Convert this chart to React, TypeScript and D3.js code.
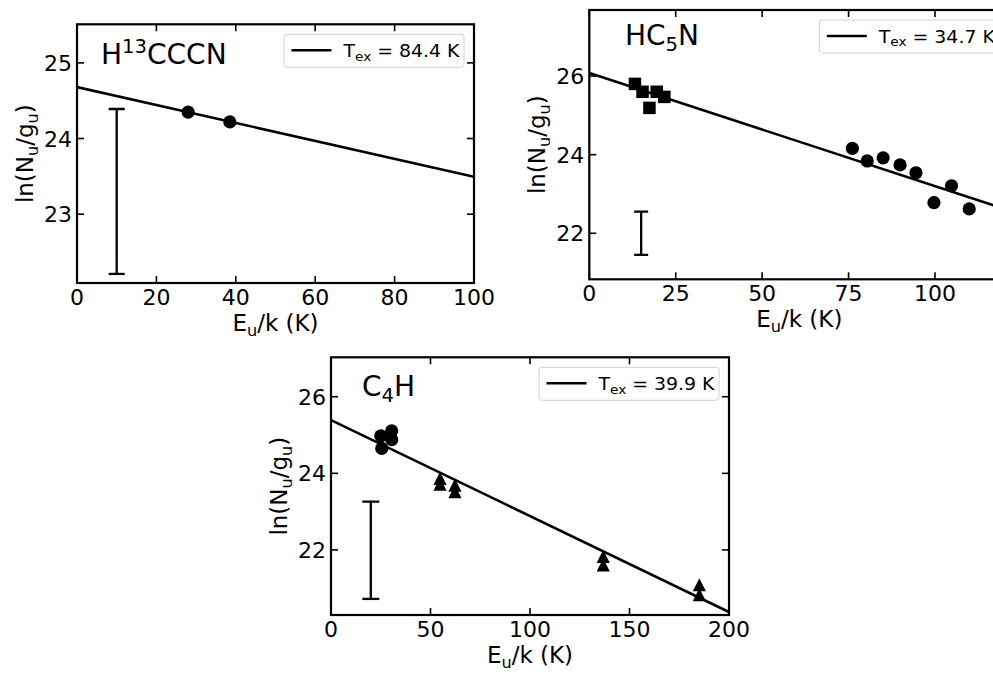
import React from "react";
import * as d3 from "d3";

// ---------- data ----------
const h13cccnEnergy = [28.0, 38.5];
const h13cccnLnN = [24.35, 24.22];

const hc5nSquareEnergy = [13.2, 15.4, 17.4, 19.5, 21.7];
const hc5nSquareLnN = [25.8, 25.6, 25.19, 25.6, 25.47];
const hc5nCircleEnergy = [76.1, 80.4, 85.0, 89.9, 94.5, 99.7, 104.8, 109.9];
const hc5nCircleLnN = [24.16, 23.84, 23.92, 23.74, 23.54, 22.78, 23.21, 22.62];

const c4hCircleEnergy = [25.0, 30.5, 25.5, 30.5];
const c4hCircleLnN = [24.98, 25.11, 24.65, 24.88];
const c4hTriangleEnergy = [54.8, 54.8, 62.3, 62.3, 136.8, 136.8, 185.1, 185.1];
const c4hTriangleLnN = [23.87, 23.72, 23.69, 23.52, 21.83, 21.61, 21.09, 20.83];

const texValues = [84.4, 34.7, 39.9];
const fitIntercepts = [24.68, 26.08, 25.39];

const errorBarX = [10, 15, 20];
const errorBarCenter = [23.3, 22.0, 21.99];
const errorBarHalf = [1.09, 0.55, 1.27];

const xDomains: [number, number][] = [[0, 100], [0, 121.5], [0, 200]];
const yDomains: [number, number][] = [[22.09, 25.51], [20.83, 27.68], [20.3, 27.03]];
const xTickValues = [
  [0, 20, 40, 60, 80, 100],
  [0, 25, 50, 75, 100],
  [0, 50, 100, 150, 200],
];
const yTickValues = [
  [23, 24, 25],
  [22, 24, 26],
  [22, 24, 26],
];

type Kind = "n" | "sub" | "sup";
type Part = [string, Kind];

const titleParts: Part[][] = [
  [["H", "n"], ["13", "sup"], ["CCCN", "n"]],
  [["HC", "n"], ["5", "sub"], ["N", "n"]],
  [["C", "n"], ["4", "sub"], ["H", "n"]],
];

const FONT = "DejaVu Sans";

function Rich({ parts, size, ...rest }: { parts: Part[]; size: number; [k: string]: any }) {
  let cur = 0;
  return (
    <text fontFamily={FONT} fontSize={size} {...rest}>
      {parts.map(([t, k], i) => {
        const target = k === "sub" ? size * 0.22 : k === "sup" ? -size * 0.36 : 0;
        const dy = target - cur;
        cur = target;
        return (
          <tspan key={i} dy={dy} fontSize={k === "n" ? size : size * 0.7}>
            {t}
          </tspan>
        );
      })}
    </text>
  );
}

type Layout = {
  left: number;
  top: number;
  right: number;
  bottom: number;
  titleX: number;
  titleY: number;
  cap: number;
};

const layouts: Layout[] = [
  { left: 77, top: 24.3, right: 474, bottom: 283, titleX: 101, titleY: 63.5, cap: 8 },
  { left: 589.3, top: 10, right: 1009.3, bottom: 279.3, titleX: 625, titleY: 44.5, cap: 7 },
  { left: 331, top: 357.3, right: 729, bottom: 615, titleX: 362, titleY: 396, cap: 8.5 },
];

function Panel({ idx, children }: { idx: number; children: (x: any, y: any) => React.ReactNode }) {
  const L = layouts[idx];
  const x = d3.scaleLinear().domain(xDomains[idx]).range([L.left, L.right]);
  const y = d3.scaleLinear().domain(yDomains[idx]).range([L.bottom, L.top]);
  const clipId = `clip${idx}`;
  const tickLen = 7;
  const [x0, x1] = xDomains[idx];
  const tex = texValues[idx];
  const b = fitIntercepts[idx];
  const legW = 180, legH = 33;
  const legX = L.right - 10 - legW;
  const legY = L.top + 10;
  const ex = errorBarX[idx], ec = errorBarCenter[idx], eh = errorBarHalf[idx];
  return (
    <g>
      <defs>
        <clipPath id={clipId}>
          <rect x={L.left} y={L.top} width={L.right - L.left} height={L.bottom - L.top} />
        </clipPath>
      </defs>
      <g clipPath={`url(#${clipId})`}>
        <line
          x1={x(x0)}
          y1={y(b - x0 / tex)}
          x2={x(x1)}
          y2={y(b - x1 / tex)}
          stroke="#000"
          strokeWidth={2.6}
        />
        {children(x, y)}
        <g stroke="#000" strokeWidth={2.3}>
          <line x1={x(ex)} x2={x(ex)} y1={y(ec - eh)} y2={y(ec + eh)} />
          <line x1={x(ex) - L.cap} x2={x(ex) + L.cap} y1={y(ec - eh)} y2={y(ec - eh)} />
          <line x1={x(ex) - L.cap} x2={x(ex) + L.cap} y1={y(ec + eh)} y2={y(ec + eh)} />
        </g>
      </g>
      <g stroke="#000" strokeWidth={1.6}>
        {xTickValues[idx].map((t) => (
          <g key={`xt${t}`}>
            <line x1={x(t)} x2={x(t)} y1={L.bottom} y2={L.bottom - tickLen} />
            <line x1={x(t)} x2={x(t)} y1={L.top} y2={L.top + tickLen} />
          </g>
        ))}
        {yTickValues[idx].map((t) => (
          <g key={`yt${t}`}>
            <line x1={L.left} x2={L.left + tickLen} y1={y(t)} y2={y(t)} />
            <line x1={L.right} x2={L.right - tickLen} y1={y(t)} y2={y(t)} />
          </g>
        ))}
      </g>
      <rect
        x={L.left}
        y={L.top}
        width={L.right - L.left}
        height={L.bottom - L.top}
        fill="none"
        stroke="#000"
        strokeWidth={2.2}
      />
      {xTickValues[idx].map((t) => (
        <text key={`xl${t}`} x={x(t)} y={L.bottom + 22} textAnchor="middle" fontFamily={FONT} fontSize={22}>
          {t}
        </text>
      ))}
      {yTickValues[idx].map((t) => (
        <text key={`yl${t}`} x={L.left - 5} y={y(t) + 8} textAnchor="end" fontFamily={FONT} fontSize={22}>
          {t}
        </text>
      ))}
      <Rich
        parts={[["E", "n"], ["u", "sub"], ["/k (K)", "n"]]}
        size={23}
        x={(L.left + L.right) / 2}
        y={L.bottom + 48}
        textAnchor="middle"
      />
      <Rich
        parts={[["ln(N", "n"], ["u", "sub"], ["/g", "n"], ["u", "sub"], [")", "n"]]}
        size={23}
        transform={`translate(${L.left - 44},${(L.top + L.bottom) / 2}) rotate(-90)`}
        textAnchor="middle"
      />
      <Rich parts={titleParts[idx]} size={28} x={L.titleX} y={L.titleY} />
      <rect x={legX} y={legY} width={legW} height={legH} rx={3} fill="#fff" fillOpacity={0.8} stroke="#d0d0d0" strokeWidth={1} />
      <line x1={legX + 7.5} x2={legX + 47.5} y1={legY + 16} y2={legY + 16} stroke="#000" strokeWidth={2.6} />
      <text
        x={legX + 59.5}
        y={legY + 22.5}
        fontFamily={FONT}
        fontSize={18}
        textLength={116}
        lengthAdjust="spacingAndGlyphs"
      >
        <tspan>T</tspan>
        <tspan dy={3.8} fontSize={13}>ex</tspan>
        <tspan dy={-3.8}>{` = ${tex.toFixed(1)} K`}</tspan>
      </text>
    </g>
  );
}

function circles(xs: number[], ys: number[], x: any, y: any, key: string) {
  return xs.map((v, i) => <circle key={`${key}${i}`} cx={x(v)} cy={y(ys[i])} r={6.6} fill="#000" />);
}

function squares(xs: number[], ys: number[], x: any, y: any) {
  const s = 12.5;
  return xs.map((v, i) => (
    <rect key={`sq${i}`} x={x(v) - s / 2} y={y(ys[i]) - s / 2} width={s} height={s} fill="#000" />
  ));
}

function triangles(xs: number[], ys: number[], x: any, y: any) {
  const h = 6.6;
  return xs.map((v, i) => {
    const cx = x(v), cy = y(ys[i]);
    return (
      <path
        key={`tr${i}`}
        d={`M${cx},${cy - h}L${cx + h},${cy + h}L${cx - h},${cy + h}Z`}
        fill="#000"
      />
    );
  });
}

export default function App() {
  return (
    <svg
      width={993}
      height={675}
      viewBox="0 0 993 675"
      style={{ position: "absolute", left: 0, top: 0, background: "#fff" }}
    >
      <rect x={0} y={0} width={993} height={675} fill="#fff" />
      <Panel idx={0}>{(x, y) => circles(h13cccnEnergy, h13cccnLnN, x, y, "a")}</Panel>
      <Panel idx={1}>
        {(x, y) => (
          <>
            {squares(hc5nSquareEnergy, hc5nSquareLnN, x, y)}
            {circles(hc5nCircleEnergy, hc5nCircleLnN, x, y, "b")}
          </>
        )}
      </Panel>
      <Panel idx={2}>
        {(x, y) => (
          <>
            {circles(c4hCircleEnergy, c4hCircleLnN, x, y, "c")}
            {triangles(c4hTriangleEnergy, c4hTriangleLnN, x, y)}
          </>
        )}
      </Panel>
    </svg>
  );
}
